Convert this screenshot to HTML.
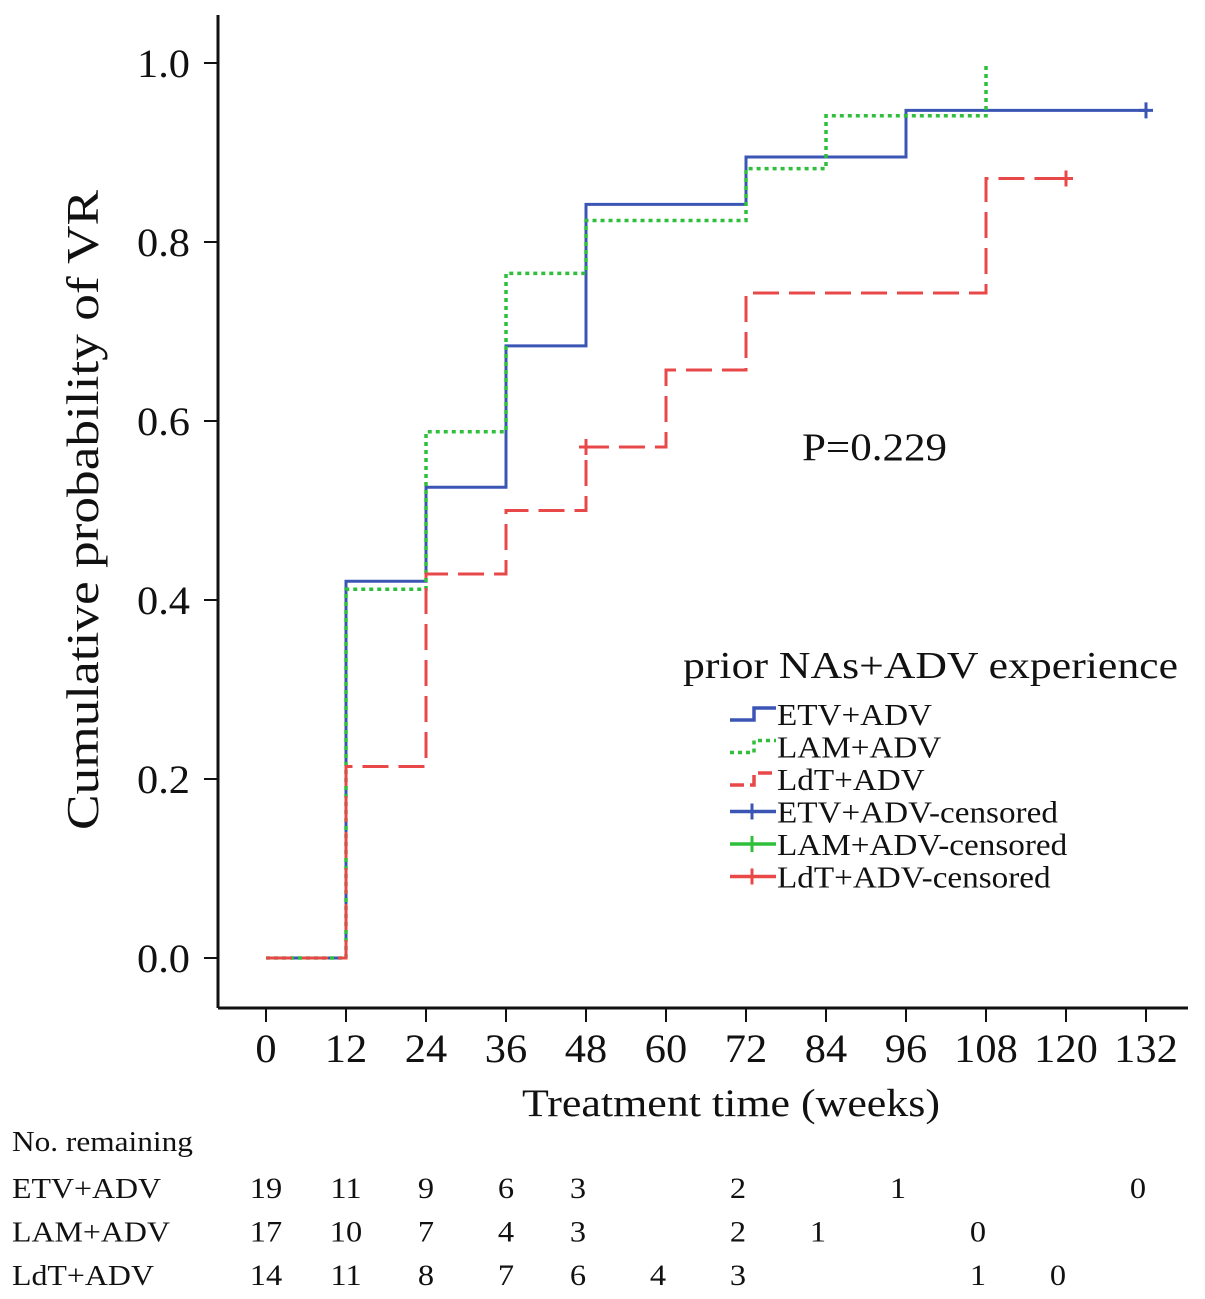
<!DOCTYPE html>
<html><head><meta charset="utf-8"><style>
html,body{margin:0;padding:0;background:#fff;}
svg{display:block;font-family:"Liberation Serif",serif;}
</style></head><body>
<svg id="chart" width="1205" height="1299" viewBox="0 0 1205 1299" xmlns="http://www.w3.org/2000/svg">
<g id="axes"></g>
<g id="series"></g>
<text x="802" y="460" font-size="39" fill="#111" textLength="145" lengthAdjust="spacingAndGlyphs">P=0.229</text>
<text x="683" y="678" font-size="38" fill="#111" textLength="495" lengthAdjust="spacingAndGlyphs">prior NAs+ADV experience</text>
<g id="legend"></g>
<text x="522" y="1116" font-size="39" fill="#111" textLength="418" lengthAdjust="spacingAndGlyphs">Treatment time (weeks)</text>
<text transform="translate(98,830) rotate(-90)" font-size="45" fill="#111" textLength="640" lengthAdjust="spacingAndGlyphs">Cumulative probability of VR</text>
<g id="risk"></g>
</svg>
<script>
const xTicks=[0,12,24,36,48,60,72,84,96,108,120,132];
const yTicks=[0.0,0.2,0.4,0.6,0.8,1.0];
const etvT=[0,12,24,36,48,72,96,132];
const etvS=[0,0.421,0.526,0.684,0.842,0.895,0.947,0.947];
const lamT=[0,12,24,36,48,72,84,108];
const lamS=[0,0.412,0.588,0.765,0.824,0.882,0.941,1.0];
const ldtT=[0,12,24,36,48,60,72,108,120];
const ldtS=[0,0.214,0.429,0.5,0.571,0.657,0.743,0.871,0.871];
const etvCens=[132];
const ldtCens=[48,120];
const riskNames=["ETV+ADV","LAM+ADV","LdT+ADV"];
const riskETV=[[0,19],[12,11],[24,9],[36,6],[48,3],[72,2],[96,1],[132,0]];
const riskLAM=[[0,17],[12,10],[24,7],[36,4],[48,3],[72,2],[84,1],[108,0]];
const riskLdT=[[0,14],[12,11],[24,8],[36,7],[48,6],[60,4],[72,3],[108,1],[120,0]];

const NS="http://www.w3.org/2000/svg";
const xs=t=>266+t*(880/132);
const ys=v=>958-v*895;
function mk(tag,attrs,parent){const e=document.createElementNS(NS,tag);for(const k in attrs)e.setAttribute(k,attrs[k]);parent.appendChild(e);return e;}
function widen(el,k){const w=el.getComputedTextLength();el.setAttribute('textLength',(w*k).toFixed(1));el.setAttribute('lengthAdjust','spacingAndGlyphs');}
const axes=document.getElementById('axes');
let l=mk('line',{x1:218,y1:15,x2:218,y2:1008,stroke:'#111','stroke-width':3},axes);


l=mk('line',{x1:218,y1:1008,x2:1188,y2:1008,stroke:'#111','stroke-width':3},axes);


yTicks.forEach(v=>{
 const t=mk('line',{x1:204,y1:ys(v),x2:218,y2:ys(v),stroke:'#111','stroke-width':2},axes);
 
 
 const tx=mk('text',{x:190,y:ys(v)+14,'font-size':40,'text-anchor':'end',fill:'#111'},axes);
 tx.textContent=v.toFixed(1);
 
 
 widen(tx,1.06);
});
xTicks.forEach(v=>{
 const t=mk('line',{x1:xs(v),y1:1008,x2:xs(v),y2:1022,stroke:'#111','stroke-width':2},axes);
 
 
 const tx=mk('text',{x:xs(v),y:1062,'font-size':40,'text-anchor':'middle',fill:'#111'},axes);
 tx.textContent=v;
 
 
 widen(tx,1.06);
});
function step(T,S){let d='M'+xs(T[0])+','+ys(S[0]);for(let i=1;i<T.length;i++){d+=' H'+xs(T[i])+' V'+ys(S[i]);}return d;}
const ser=document.getElementById('series');
function cross(x,y,c,g){mk('path',{d:`M${x-7},${y} H${x+7} M${x},${y-8} V${y+8}`,stroke:c,'stroke-width':3,fill:'none'},g);}
let p=mk('path',{d:step(etvT,etvS),stroke:'#3b55b5','stroke-width':3,fill:'none'},ser);


p=mk('path',{d:step(lamT,lamS),stroke:'#2fbf3a','stroke-width':3.5,fill:'none','stroke-dasharray':'4,4'},ser);


p=mk('path',{d:step(ldtT,ldtS),stroke:'#e84848','stroke-width':3,fill:'none','stroke-dasharray':'26,10'},ser);


etvCens.forEach(t=>{const i=etvT.indexOf(t);cross(xs(t),ys(etvS[i>=0?i:etvS.length-1]),'#3b55b5',ser);});
ldtCens.forEach(t=>{let v=0;ldtT.forEach((tt,i)=>{if(tt<=t)v=ldtS[i];});cross(xs(t),ys(v),'#e84848',ser);});
const leg=document.getElementById('legend');
const items=[["ETV+ADV","#3b55b5","step",""],["LAM+ADV","#2fbf3a","step","4,4"],["LdT+ADV","#e84848","step","14,6"],["ETV+ADV-censored","#3b55b5","cross",""],["LAM+ADV-censored","#2fbf3a","cross",""],["LdT+ADV-censored","#e84848","cross",""]];
items.forEach((it,i)=>{
 const y=714+i*32.5;
 const g=mk('g',{},leg);
 
 
 if(it[2]==='step'){mk('path',{d:`M730,${y+6} H754 V${y-6} H776`,stroke:it[1],'stroke-width':3.5,fill:'none','stroke-dasharray':it[3]},g);}
 else{mk('line',{x1:730,y1:y,x2:776,y2:y,stroke:it[1],'stroke-width':3.5},g);cross(752,y,it[1],g);}
 const tx=mk('text',{x:777,y:y+11,'font-size':31,fill:'#111'},g);
 tx.textContent=it[0];
 widen(tx,1.07);
});
const risk=document.getElementById('risk');
let tt=mk('text',{x:12,y:1151,'font-size':29,fill:'#111'},risk);
tt.textContent='No. remaining';


widen(tt,1.08);
[riskETV,riskLAM,riskLdT].forEach((row,r)=>{
 const y=1198+r*43.5;
 const n=mk('text',{x:12,y:y,'font-size':29,fill:'#111'},risk);
 n.textContent=riskNames[r];
 
 
 widen(n,1.1);
 row.forEach(([t,c])=>{
  const tx=mk('text',{x:xs(t)-(t>=48?8:0),y:y,'font-size':30,'text-anchor':'middle',fill:'#111'},risk);
  tx.textContent=c;
  
  
  widen(tx,1.08);
 });
});
</script>
</body></html>
